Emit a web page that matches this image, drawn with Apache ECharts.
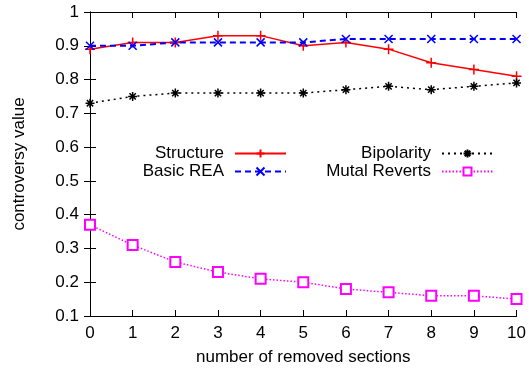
<!DOCTYPE html>
<html>
<head>
<meta charset="utf-8">
<script src="https://cdn.jsdelivr.net/npm/echarts@6/dist/echarts.min.js"></script>
<style>
  html, body { margin: 0; padding: 0; background: #fff; }
  #chart { width: 529px; height: 373px; }
</style>
</head>
<body>
<div id="chart"></div>
<script>
const sections = [0, 1, 2, 3, 4, 5, 6, 7, 8, 9, 10]
const structure = [0.89, 0.91, 0.91, 0.93, 0.93, 0.90, 0.91, 0.89, 0.85, 0.83, 0.81]
const basicRea = [0.90, 0.90, 0.91, 0.91, 0.91, 0.91, 0.92, 0.92, 0.92, 0.92, 0.92]
const bipolarity = [0.73, 0.75, 0.76, 0.76, 0.76, 0.76, 0.77, 0.78, 0.77, 0.78, 0.79]
const mutalReverts = [0.37, 0.31, 0.26, 0.23, 0.21, 0.20, 0.18, 0.17, 0.16, 0.16, 0.15]

const FONT = "'Liberation Sans', Arial, sans-serif"
const FS = 17
const PLUS = 'path://M0,5L10,5M5,0L5,10'
const CROSS = 'path://M0,0L10,10M10,0L0,10'
const STAR = 'path://M0,5L10,5M5,0L5,10M1.5,1.5L8.5,8.5M8.5,1.5L1.5,8.5'

const pairs = vals => sections.map((x, i) => [x, vals[i]])

const chart = echarts.init(document.getElementById('chart'))

const frameAxis = {
  axisLine: { show: true, lineStyle: { color: '#000', width: 1 } },
  axisTick: { show: true, inside: true, length: 6, lineStyle: { color: '#000' } },
  splitLine: { show: false }
}

function legendAt(name, right, top) {
  return {
    data: [name],
    right: right,
    top: top,
    align: 'right',
    itemWidth: 51,
    itemHeight: 10,
    textStyle: { fontFamily: FONT, fontSize: FS, color: '#000', padding: [0, 6, 0, 0] }
  }
}

function lineSeries(name, vals, color, type, width, symbol, size) {
  return {
    name: name,
    type: 'line',
    data: pairs(vals),
    symbol: symbol,
    symbolSize: size,
    showAllSymbol: true,
    lineStyle: { color: color, type: type, width: width },
    itemStyle: { color: color, borderColor: color, borderWidth: 1.5 },
    emphasis: { disabled: true },
    animation: false
  }
}

chart.setOption({
  backgroundColor: '#fff',
  animation: false,
  textStyle: { fontFamily: FONT },
  grid: { left: 90, right: 11, top: 12, bottom: 57 },
  legend: [
    legendAt('Structure', 237, 140),
    legendAt('Basic REA', 237, 158),
    legendAt('Bipolarity', 30, 140),
    legendAt('Mutal Reverts', 30, 158)
  ],
  xAxis: [
    {
      type: 'value', min: 0, max: 10, interval: 1,
      name: 'number of removed sections', nameLocation: 'middle', nameGap: 33,
      nameTextStyle: { fontFamily: FONT, fontSize: FS, color: '#000' },
      axisLabel: { fontFamily: FONT, fontSize: FS, color: '#000', margin: 9 },
      ...frameAxis
    },
    {
      type: 'value', min: 0, max: 10, interval: 1, position: 'top',
      axisLabel: { show: false },
      ...frameAxis
    }
  ],
  yAxis: [
    {
      type: 'value', min: 0.1, max: 1, interval: 0.1,
      name: 'controversy value', nameLocation: 'middle', nameGap: 62,
      nameTextStyle: { fontFamily: FONT, fontSize: FS, color: '#000' },
      axisLabel: {
        fontFamily: FONT, fontSize: FS, color: '#000', margin: 11,
        formatter: v => String(+v.toFixed(1))
      },
      ...frameAxis
    },
    {
      type: 'value', min: 0.1, max: 1, interval: 0.1, position: 'right',
      axisLabel: { show: false },
      ...frameAxis
    }
  ],
  series: [
    lineSeries('Structure', structure, '#ff0000', 'solid', 1.5, PLUS, 10),
    lineSeries('Basic REA', basicRea, '#0000ff', [6, 4], 2, CROSS, 8),
    lineSeries('Bipolarity', bipolarity, '#000000', [2, 4], 1.5, STAR, 9),
    lineSeries('Mutal Reverts', mutalReverts, '#ff00ff', [1.5, 2], 1.5, 'emptyRect', 10)
  ]
})
</script>
</body>
</html>
